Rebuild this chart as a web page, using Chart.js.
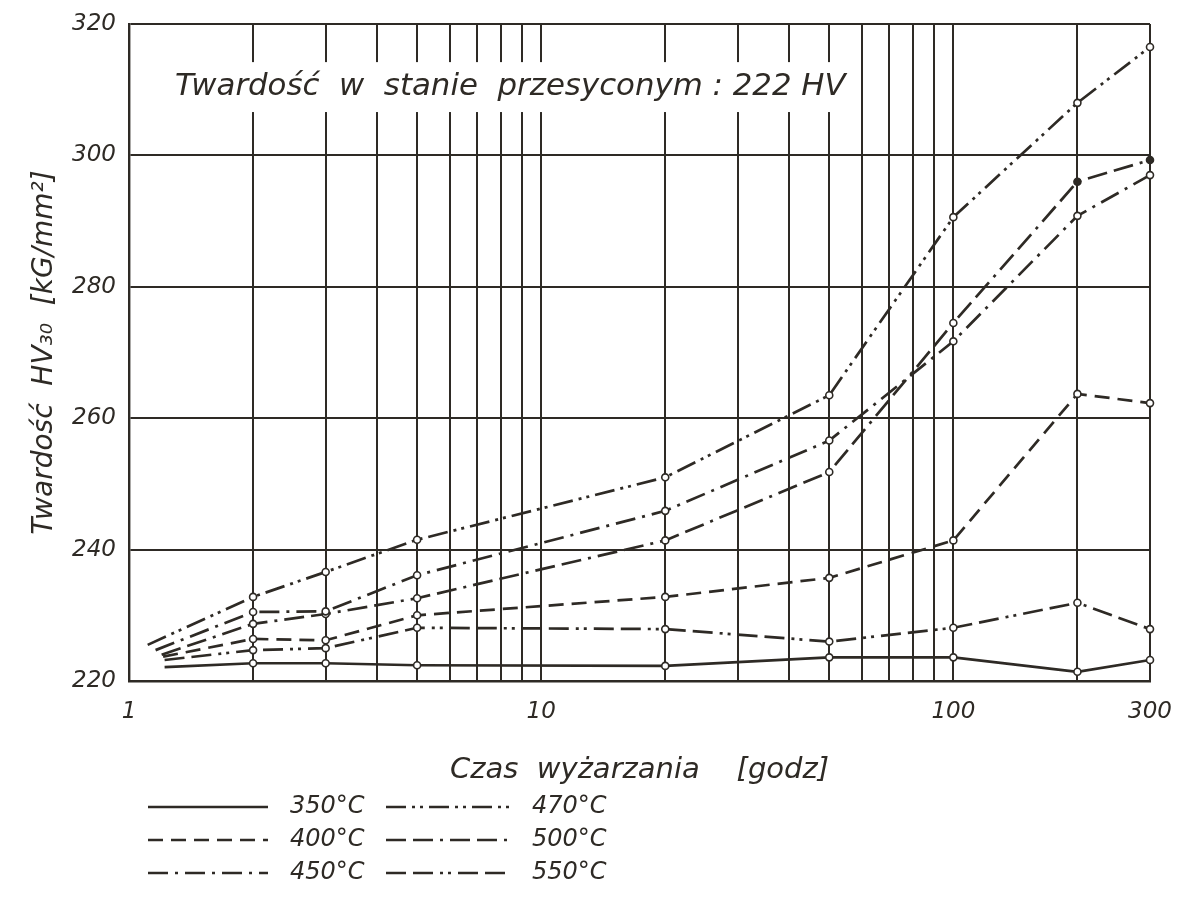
<!DOCTYPE html>
<html>
<head>
<meta charset="utf-8">
<script src="https://cdn.jsdelivr.net/npm/chart.js@4.4.1/dist/chart.umd.min.js"></script>
<style>
  body { margin: 0; background: #fff; }
  canvas { display: block; }
</style>
</head>
<body>
<canvas id="hardnessChart" width="1177" height="918"></canvas>
<script>
// czas wyzarzania [h] w punktach pomiarowych
const hours = [2, 3, 5, 20, 50, 100, 200, 300];
const temps = ["350°C", "400°C", "450°C", "470°C", "500°C", "550°C"];
// poczatek krzywych (przy ~1 h)
const startHours = [1.22, 1.21, 1.16, 1.11, 1.2, 1.22];
const startHV = [222.1, 223.7, 224.7, 225.5, 224.0, 223.2];

const hv350 = [222.7, 222.7, 222.4, 222.3, 223.6, 223.6, 221.4, 223.2];
const hv400 = [226.4, 226.2, 230.0, 232.8, 235.7, 241.4, 263.7, 262.3];
const hv450 = [230.5, 230.6, 236.1, 245.9, 256.6, 271.7, 290.8, 297.0];
const hv470 = [232.8, 236.6, 241.5, 251.0, 263.5, 290.6, 308.0, 316.5];
const hv500 = [228.7, 230.2, 232.6, 241.4, 251.8, 274.5, 296.0, 299.3];
const hv550 = [224.7, 225.0, 228.1, 227.9, 226.0, 228.1, 231.9, 227.9];

const xGrid = [1, 2, 3, 4, 5, 6, 7, 8, 9, 10, 20, 30, 40, 50, 60, 70, 80, 90, 100, 200, 300];
const xLabels = [1, 10, 100, 300];

const ink = "#2e2a25";
const font = "'DejaVu Sans', sans-serif";

const dashes = [
  [],
  [15, 8],
  [20, 7, 3, 7],
  [20, 6, 3, 5, 3, 6],
  [20, 7, 20, 7, 3, 7],
  [20, 7, 20, 7, 3, 5, 3, 7],
];

function makeSet(i, values, filled) {
  const pts = [{ x: startHours[i], y: startHV[i] }];
  hours.forEach((h, k) => pts.push({ x: h, y: values[k] }));
  return {
    label: temps[i],
    data: pts,
    borderColor: ink,
    borderWidth: 2.7,
    borderDash: dashes[i],
    pointRadius: pts.map((p, k) => (k === 0 ? 0 : 3.5)),
    pointBorderWidth: 1.6,
    pointBorderColor: ink,
    pointBackgroundColor: pts.map((p, k) => (filled.includes(k) ? ink : "#fff")),
    tension: 0,
    clip: false,
  };
}

const notePlugin = {
  id: "note",
  beforeDatasetsDraw(chart) {
    const { ctx, scales: { x, y } } = chart;
    const text = "Twardość  w  stanie  przesyconym : 222 HV";
    ctx.save();
    ctx.font = "italic 31px " + font;
    const left = x.left + 46;
    const top = y.getPixelForValue(314.2);
    const bottom = y.getPixelForValue(306.6);
    const right = x.getPixelForValue(56);
    ctx.fillStyle = "#fff";
    ctx.fillRect(x.left + 2, top, right - x.left - 2, bottom - top);
    ctx.fillStyle = ink;
    ctx.textBaseline = "middle";
    ctx.fillText(text, left, y.getPixelForValue(310.4), right - left - 4);
    ctx.restore();
  },
};

const legendPlugin = {
  id: "dashLegend",
  afterDraw(chart) {
    const { ctx, chartArea } = chart;
    const cols = [
      { x0: 148, x1: 268, tx: 290 },
      { x0: 386, x1: 512, tx: 532 },
    ];
    ctx.save();
    ctx.font = "italic 24px " + font;
    ctx.textBaseline = "middle";
    chart.data.datasets.forEach((ds, i) => {
      const c = cols[Math.floor(i / 3)];
      const yy = chartArea.bottom + 126 + (i % 3) * 33;
      ctx.strokeStyle = ink;
      ctx.lineWidth = 2.4;
      ctx.setLineDash(ds.borderDash);
      ctx.beginPath();
      ctx.moveTo(c.x0, yy);
      ctx.lineTo(c.x1, yy);
      ctx.stroke();
      ctx.setLineDash([]);
      ctx.fillStyle = ink;
      ctx.fillText(ds.label, c.tx, yy);
    });
    ctx.restore();
  },
};

const hardnessChart = document.getElementById("hardnessChart");

new Chart(hardnessChart, {
  type: "line",
  data: {
    datasets: [
      makeSet(0, hv350, []),
      makeSet(1, hv400, []),
      makeSet(2, hv450, []),
      makeSet(3, hv470, []),
      makeSet(4, hv500, [7, 8]),
      makeSet(5, hv550, []),
    ],
  },
  options: {
    responsive: false,
    animation: false,
    events: [],
    layout: {
      padding: { top: 24, right: 27, bottom: 127, left: 0 },
    },
    plugins: {
      legend: { display: false },
      tooltip: { enabled: false },
      title: { display: false },
    },
    scales: {
      x: {
        type: "logarithmic",
        min: 1,
        max: 300,
        afterBuildTicks: (s) => {
          s.ticks = xGrid.map((v) => ({ value: v }));
        },
        afterFit: (s) => {
          s.height = 110;
          s.paddingLeft = 0;
          s.paddingRight = 0;
        },
        grid: { color: ink, lineWidth: 2, drawTicks: false },
        border: { color: ink, width: 2.4 },
        ticks: {
          autoSkip: false,
          maxRotation: 0,
          padding: 17,
          color: ink,
          font: { family: font, size: 23, style: "italic" },
          callback: (v) => (xLabels.includes(v) ? String(v) : ""),
        },
        title: {
          display: true,
          text: "Czas  wyżarzania    [godz]",
          color: ink,
          font: { family: font, size: 29, style: "italic" },
          padding: { top: 0, bottom: 3 },
        },
      },
      y: {
        type: "linear",
        min: 220,
        max: 320,
        afterFit: (s) => {
          s.width = 129;
          s.paddingTop = 0;
          s.paddingBottom = 0;
        },
        grid: { color: ink, lineWidth: 2, drawTicks: false },
        border: { color: ink, width: 2.4 },
        ticks: {
          stepSize: 20,
          padding: 13,
          color: ink,
          font: { family: font, size: 23, style: "italic" },
        },
        title: {
          display: true,
          text: "Twardość  HV₃₀  [kG/mm²]",
          color: ink,
          font: { family: font, size: 28, style: "italic" },
          padding: { top: 28, bottom: 0 },
        },
      },
    },
  },
  plugins: [notePlugin, legendPlugin],
});
</script>
</body>
</html>
